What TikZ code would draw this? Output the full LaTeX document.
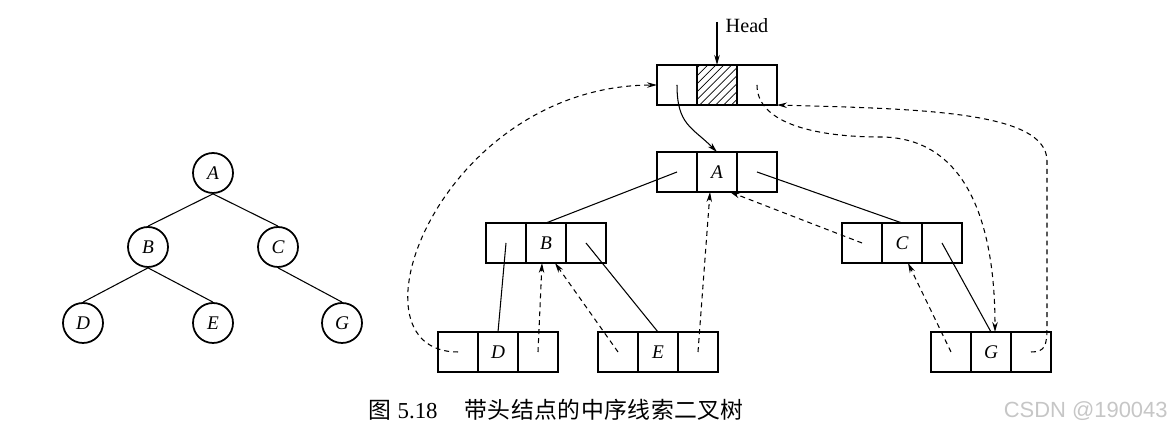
\documentclass[tikz,border=0pt]{standalone}
\usepackage{fontspec}
\setmainfont{Liberation Serif}
\newfontfamily\cjkfont[LetterSpace=2]{Noto Sans CJK SC}
\newfontfamily\markfont{Liberation Sans}
\usetikzlibrary{positioning,arrows.meta,patterns.meta}

\begin{document}
\begin{tikzpicture}[x=0.02cm, y=0.02cm,
  vertex/.style={circle, draw, line width=1pt, minimum size=8mm, inner sep=0pt,
    font=\fontsize{11}{13}\selectfont\itshape},
  cell/.style={rectangle, draw, line width=0.9pt, minimum width=8mm, minimum height=8mm,
    inner sep=0pt, outer sep=0pt, font=\fontsize{11}{13}\selectfont\itshape},
  hatchcell/.style={cell, pattern={Lines[angle=45, distance=3.2pt, line width=0.4pt]}},
  tedge/.style={line width=0.6pt},
  link/.style={line width=0.6pt},
  thread/.style={line width=0.6pt, dash pattern=on 2.8pt off 2.3pt,
    -{Stealth[length=2mm, width=1.1mm]}},
]
  \useasboundingbox (0,0) rectangle (1173,431);

  % Binary tree (left)
  \node[vertex] (tA) at (213,258) {A};
  \node[vertex] (tB) at (148,184) {B};
  \node[vertex] (tC) at (278,184) {C};
  \node[vertex] (tD) at (83,108) {D};
  \node[vertex] (tE) at (213,108) {E};
  \node[vertex] (tG) at (342,108) {G};

  \draw[tedge] (tA.south)--(tB.north); \draw[tedge] (tA.south)--(tC.north);
  \draw[tedge] (tB.south)--(tD.north); \draw[tedge] (tB.south)--(tE.north);
  \draw[tedge] (tC.south)--(tG.north);

  % Head node
  \node[hatchcell] (H) at (717,346) {};
  \node[cell, left=0pt of H] (lH) {};
  \node[cell, right=0pt of H] (rH) {};
  \coordinate (hd) at (717,409);
  \node[font=\fontsize{11.5}{13}\selectfont] (headlbl) at (747,405) {Head};
  \draw[link, -{Stealth[length=2mm, width=1.1mm]}] (hd) -- (H.north);

  % Threaded tree (right)
  \node[cell] (A) at (717,259) {A};
  \node[cell, left=0pt of A] (lA) {};
  \node[cell, right=0pt of A] (rA) {};

  \node[cell] (B) at (546,188) {B};
  \node[cell, left=0pt of B] (lB) {};
  \node[cell, right=0pt of B] (rB) {};

  \node[cell] (C) at (902,188) {C};
  \node[cell, left=0pt of C] (lC) {};
  \node[cell, right=0pt of C] (rC) {};

  \node[cell] (D) at (498,79) {D};
  \node[cell, left=0pt of D] (lD) {};
  \node[cell, right=0pt of D] (rD) {};

  \node[cell] (E) at (658,79) {E};
  \node[cell, left=0pt of E] (lE) {};
  \node[cell, right=0pt of E] (rE) {};

  \node[cell] (G) at (991,79) {G};
  \node[cell, left=0pt of G] (lG) {};
  \node[cell, right=0pt of G] (rG) {};

  % child links
  \draw[link, -{Stealth[length=2mm, width=1.1mm]}] (lH.center) .. controls +(0,-40) and +(-25,25) .. (A.north);
  \draw[link] (lA.center)--(B.north); \draw[link] (rA.center)--(C.north);
  \draw[link] (lB.center)--(D.north); \draw[link] (rB.center)--(E.north);
  \draw[link] (rC.center)--(G.north);

  % threads
  \draw[thread] (lD.center) .. controls +(-118,0) and +(-217,-1) .. (lH.west);
  \draw[thread] (rD.center) -- ([xshift=-0.8mm]B.south);
  \draw[thread] (lE.center) -- ([xshift=1.8mm]B.south);
  \draw[thread] (rE.center) -- ([xshift=-1.4mm]A.south);
  \draw[thread] (lC.center) -- ([xshift=2.6mm]A.south);
  \draw[thread] (lG.center) -- ([xshift=1.2mm]C.south);
  \draw[thread] (rH.center) .. controls +(0,-40) and +(-60,0) .. (880,294)
    .. controls +(80,0) and +(0,121) .. ([xshift=0.8mm]G.north);
  \draw[thread] (rG.center) .. controls +(14,0) and +(0,-20) .. (1047,105) -- (1047,270)
    .. controls +(0,50) and +(143,-4) .. (rH.south east);

  % caption
  \node[anchor=west, inner sep=0pt, font=\fontsize{13}{15}\selectfont] (cap) at (368,21)
    {{\cjkfont 图}\hspace{0.13cm}5.18\hspace{0.54cm}{\cjkfont 带头结点的中序线索二叉树}};
  \node[anchor=east, inner sep=0pt, text=gray!45, font=\markfont\fontsize{12.5}{14}\selectfont] (mark) at (1168,20)
    {CSDN @190043};
\end{tikzpicture}
\end{document}
